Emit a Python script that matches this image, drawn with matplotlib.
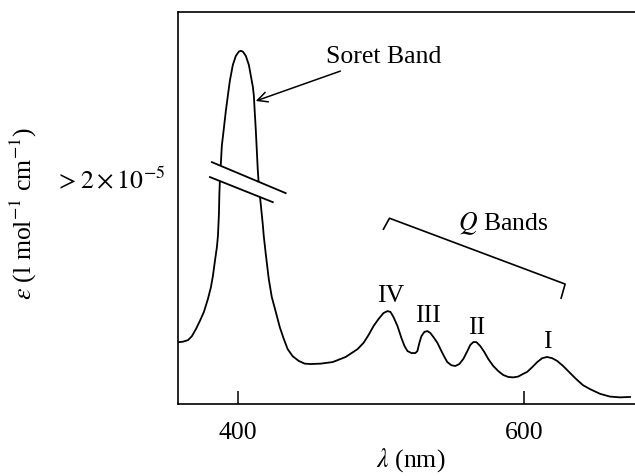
import matplotlib
matplotlib.use("Agg")
import matplotlib.pyplot as plt
from matplotlib.patches import Polygon

plt.rcParams['font.family'] = 'serif'
plt.rcParams['font.serif'] = ['Liberation Serif', 'DejaVu Serif']
plt.rcParams['mathtext.fontset'] = 'stix'

# absorption spectrum (relative absorbance, 0-100 of axis height)
wavelength = [358.9, 361.7, 365.2, 367.9, 370.7, 373.5, 376.3, 379.1, 381.2, 382.6,
              384.0, 385.4, 386.1, 386.8, 387.1, 387.5, 388.2, 388.8, 390.2, 391.6,
              393.0, 394.4, 396.5, 398.6, 400.7, 402.1, 403.5, 405.6, 407.7, 409.1,
              410.5, 411.2, 411.8, 412.5, 413.2, 413.9, 414.6, 416.0, 417.4, 418.1,
              419.5, 421.6, 423.7, 426.5, 429.3, 432.1, 434.8, 438.3, 442.5, 446.7,
              450.9, 457.8, 466.2, 475.3, 483.6, 487.8, 491.3, 494.8, 498.3, 501.7,
              504.5, 506.6, 508.7, 511.5, 514.3, 516.4, 518.5, 521.3, 524.0, 525.4,
              526.8, 528.2, 530.3, 532.4, 534.5, 536.6, 539.4, 542.2, 544.3, 546.3,
              549.1, 551.9, 554.7, 557.5, 560.3, 562.4, 564.5, 566.6, 569.3, 572.1,
              574.9, 578.4, 581.9, 585.4, 588.9, 592.3, 595.8, 599.3, 602.1, 605.6,
              609.1, 612.6, 616.0, 619.5, 623.0, 627.2, 632.1, 636.2, 641.1, 646.0,
              653.0, 659.9, 666.9, 673.9]
absorbance = [15.8, 15.9, 16.3, 17.3, 19.1, 21.2, 23.5, 26.8, 29.8, 32.7,
              36.5, 40.1, 42.9, 48.5, 53.6, 57.4, 61.7, 65.8, 70.2, 74.7,
              78.6, 82.4, 86.5, 88.8, 89.9, 90.1, 89.9, 88.8, 86.5, 83.7,
              80.9, 78.6, 74.5, 70.2, 65.1, 59.9, 56.1, 51.0, 45.9, 42.9,
              38.3, 31.9, 27.3, 23.5, 19.6, 16.6, 14.0, 12.2, 11.0, 10.3,
              10.2, 10.3, 10.7, 12.0, 14.0, 15.6, 17.6, 19.9, 21.7, 23.2,
              23.7, 23.5, 22.2, 19.9, 16.8, 14.8, 13.5, 13.0, 13.0, 13.5,
              15.6, 17.3, 18.4, 18.6, 18.1, 17.1, 15.6, 13.5, 12.0, 10.7,
              9.9, 9.7, 10.2, 11.5, 13.5, 15.1, 15.8, 15.8, 14.8, 13.3,
              11.5, 9.7, 8.4, 7.4, 6.9, 6.8, 7.0, 7.7, 8.2, 9.4,
              10.7, 11.7, 12.0, 11.7, 11.0, 9.7, 7.9, 6.4, 4.8, 3.8,
              2.6, 1.9, 1.7, 1.8]

x_ticks = [400, 600]
break_label = r'$> 2 \times 10^{-5}$'
break_level = 57.9

band_names = ['IV', 'III', 'II', 'I']
band_pos = [(506.6, 27.8), (533.1, 22.7), (566.6, 19.6), (616.0, 16.1)]

fs = 18.5

fig = plt.figure(figsize=(6.35, 4.77), dpi=100)
ax = fig.add_axes([0.2803, 0.1509, 0.7197, 0.8218])

ax.plot(wavelength, absorbance, color='black', lw=1.3)

# axis break across the Soret band
brk1 = [(381.9, 61.7), (433.4, 53.8)]
brk2 = [(380.5, 57.9), (424.4, 51.5)]
ax.add_patch(Polygon([brk1[0], brk1[1], brk2[1], brk2[0]], closed=True,
                     facecolor='white', edgecolor='none', zorder=3))
for b in (brk1, brk2):
    ax.plot([b[0][0], b[1][0]], [b[0][1], b[1][1]], color='black', lw=1.3, zorder=4)

# Soret band label
ax.annotate('Soret Band', xy=(412.5, 77.3), xytext=(461.3, 88.8),
            fontsize=fs, va='center', ha='left',
            arrowprops=dict(arrowstyle='->', color='black', lw=1.1,
                            shrinkA=3, shrinkB=0, mutation_scale=18))

# Q bands bracket
bx = [501.7, 505.9, 628.6, 625.8]
by = [44.6, 47.4, 30.6, 27.0]
ax.plot(bx, by, color='black', lw=1.2)
ax.text(554.0, 46.2, r'$Q$ Bands', fontsize=fs, ha='left', va='center')

for name, (x, y) in zip(band_names, band_pos):
    ax.text(x, y, name, fontsize=fs, ha='center', va='center')

ax.set_xlim(358.2, 677.4)
ax.set_ylim(0, 100)
ax.set_xticks(x_ticks)
ax.set_yticks([break_level])
ax.set_yticklabels([break_label])
ax.tick_params(axis='x', direction='in', length=9.5, width=1.1, labelsize=fs, pad=12)
ax.tick_params(axis='y', length=0, labelsize=fs, pad=9)
ax.spines['right'].set_visible(False)
for s in ('left', 'top', 'bottom'):
    ax.spines[s].set_linewidth(1.2)

ax.set_xlabel(r'$\lambda$ (nm)', fontsize=fs)
ax.xaxis.set_label_coords(0.51, -0.105)
ax.set_ylabel(r'$\varepsilon$ (l mol$^{-1}$ cm$^{-1}$)', fontsize=fs)
ax.yaxis.set_label_coords(-0.305, 0.49)

fig.savefig('out.png', dpi=100)
